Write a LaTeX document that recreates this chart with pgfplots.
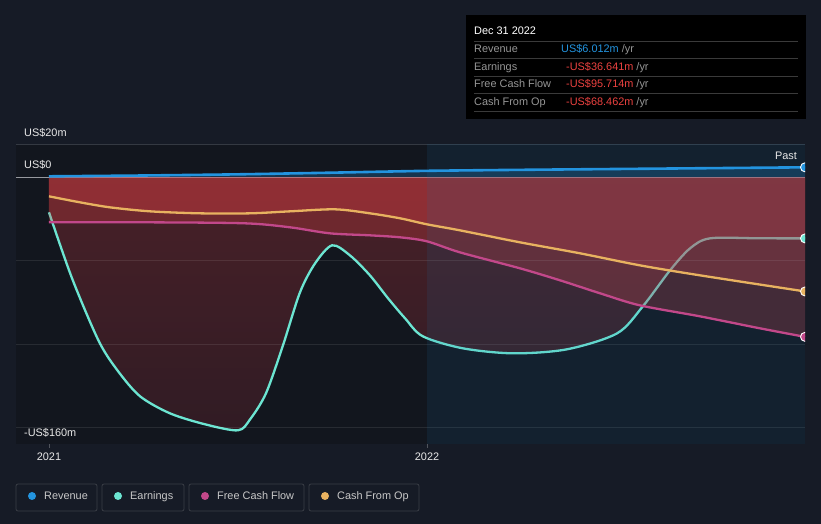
\documentclass[border=0pt]{standalone}
\usepackage{pgfplots}
\pgfplotsset{compat=1.18}
\usepackage{fontspec}
\setmainfont{Liberation Sans}
\definecolor{bg}{RGB}{22,27,38}
\definecolor{leftbg}{RGB}{18,22,30}
\definecolor{overlayblue}{RGB}{27,114,167}
\definecolor{grid20}{RGB}{52,57,66}
\definecolor{zeroline}{RGB}{150,152,158}
\definecolor{axisgray}{RGB}{80,84,92}
\definecolor{labelwhite}{RGB}{232,232,232}
\definecolor{revcol}{RGB}{35,148,223}
\definecolor{earncol}{RGB}{108,229,210}
\definecolor{fcfcol}{RGB}{194,72,138}
\definecolor{cfocol}{RGB}{232,178,96}
\definecolor{fillred}{RGB}{234,66,70}
\definecolor{fillreddark}{RGB}{140,44,56}
\definecolor{ttgrey}{RGB}{150,150,150}
\definecolor{ttred}{RGB}{236,66,64}
\definecolor{ttsep}{RGB}{58,58,58}
\definecolor{legborder}{RGB}{58,62,70}
\definecolor{legtext}{RGB}{200,200,200}
\newcommand\f{\fontsize{10.9}{13}\selectfont}
\pgfplotstableread{
x y
2021.000 -21.0
2021.061 -60.6
2021.132 -98.4
2021.183 -116.4
2021.241 -131.4
2021.320 -141.6
2021.413 -148.2
2021.500 -151.8
2021.532 -145.2
2021.574 -129.6
2021.619 -100.8
2021.664 -69.0
2021.704 -51.6
2021.749 -40.8
2021.796 -46.8
2021.849 -58.8
2021.897 -72.6
2021.942 -84.6
2021.989 -95.4
2022.095 -102.6
2022.228 -105.6
2022.370 -103.2
2022.503 -93.6
2022.571 -77.4
2022.643 -55.8
2022.696 -42.6
2022.749 -36.6
2022.881 -36.6
2023.000 -36.641
}\earnings
\pgfplotstableread{
x y
2021.000 -27.0
2021.267 -27.0
2021.519 -27.6
2021.638 -30.0
2021.743 -33.6
2021.849 -34.8
2021.929 -36.0
2022.000 -38.4
2022.087 -45.0
2022.246 -54.6
2022.352 -61.8
2022.458 -69.6
2022.563 -76.8
2022.722 -83.4
2022.881 -90.6
2023.000 -95.714
}\fcf
\pgfplotstableread{
x y
2021.000 -11.4
2021.082 -15.0
2021.161 -18.0
2021.267 -20.4
2021.399 -21.6
2021.532 -21.6
2021.638 -20.4
2021.757 -19.2
2021.849 -21.6
2021.929 -24.6
2022.000 -28.2
2022.087 -31.8
2022.246 -39.0
2022.405 -45.6
2022.563 -52.8
2022.722 -58.8
2023.000 -68.462
}\cfo
\pgfplotstableread{
x y
2021.00 0.6
2021.25 1.1
2021.50 1.8
2021.75 2.8
2022.00 3.9
2022.25 4.5
2022.50 5.0
2022.75 5.5
2023.00 6.012
}\revenue
\begin{document}
\begin{tikzpicture}
\useasboundingbox (0pt,0pt) rectangle (821pt,524pt);
\fill[bg] (0pt,0pt) rectangle (821pt,524pt);
\begin{axis}[
  at={(16pt,80pt)}, anchor=south west,
  scale only axis, width=789pt, height=300pt,
  xmin=2020.9127, xmax=2023, ymin=-160, ymax=20,
  axis y line=none, axis x line=bottom,
  x axis line style={-, draw=axisgray, line width=1pt},
  xtick={2021,2022}, xticklabels={2021,2022}, ytick=\empty,
  tick align=outside, major tick length=4pt,
  xtick style={draw=axisgray, line width=0.8pt},
  x tick label style={font=\f, text=labelwhite, yshift=-1.5pt},
  clip marker paths=true,
]
% backgrounds
\fill[leftbg] (axis cs:2020.9127,-160) rectangle (axis cs:2023,20);
\draw[grid20, line width=0.8pt] (axis cs:2020.9127,20) -- (axis cs:2023,20);
\draw[zeroline, line width=1.3pt] (axis cs:2020.9127,0) -- (axis cs:2023,0);
% revenue glow
\addplot[draw=none, fill=revcol, fill opacity=0.25, smooth, tension=0.4] table {\revenue} \closedcycle;
% earnings fill and line
\addplot[draw=none, shade, top color=fillred, bottom color=fillreddark, fill opacity=0.255, smooth, tension=0.5] table {\earnings} \closedcycle;
\addplot[earncol, line width=2.3pt, smooth, tension=0.5] table {\earnings};
% FCF fill
\addplot[draw=none, fill=fillred, fill opacity=0.255, smooth, tension=0.5] table {\fcf} \closedcycle;
% CFO fill
\addplot[draw=none, fill=fillred, fill opacity=0.255, smooth, tension=0.5] table {\cfo} \closedcycle;
% gridlines
\draw[white, opacity=0.09, line width=0.8pt] (axis cs:2020.9127,-50) -- (axis cs:2023,-50);
\draw[white, opacity=0.09, line width=0.8pt] (axis cs:2020.9127,-100) -- (axis cs:2023,-100);
\draw[white, opacity=0.09, line width=0.8pt] (axis cs:2020.9127,-150) -- (axis cs:2023,-150);
% past overlay
\fill[overlayblue, fill opacity=0.13] (axis cs:2022,-160) rectangle (axis cs:2023,20);
% lines
\addplot[fcfcol, line width=2.3pt, smooth, tension=0.5] table {\fcf};
\addplot[cfocol, line width=2.3pt, smooth, tension=0.5] table {\cfo};
\addplot[revcol, line width=2.6pt, smooth, tension=0.4] table {\revenue};
% end markers
\addplot[only marks, mark=*, mark size=4.5pt, mark options={fill=revcol, draw=white, line width=0.9pt}] coordinates {(2023,6.012)};
\addplot[only marks, mark=*, mark size=4.5pt, mark options={fill=earncol, draw=white, line width=0.9pt}] coordinates {(2023,-36.641)};
\addplot[only marks, mark=*, mark size=4.5pt, mark options={fill=fcfcol, draw=white, line width=0.9pt}] coordinates {(2023,-95.714)};
\addplot[only marks, mark=*, mark size=4.5pt, mark options={fill=cfocol, draw=white, line width=0.9pt}] coordinates {(2023,-68.462)};
\end{axis}
% axis labels
\node[anchor=base west, inner sep=0pt, text=labelwhite, font=\f] at (24pt,387.8pt) {US\$20m};
\node[anchor=base west, inner sep=0pt, text=labelwhite, font=\f] at (24pt,355.8pt) {US\$0};
\node[anchor=base west, inner sep=0pt, text=labelwhite, font=\f] at (24pt,87.8pt) {-US\$160m};
\node[anchor=base east, inner sep=0pt, text=labelwhite, font=\f] at (797pt,364.1pt) {Past};
% tooltip
\fill[black] (466pt,509pt) rectangle (806pt,405pt);
\foreach \yy in {482.7,465.7,448,430.3,412.7} {\draw[ttsep, line width=0.8pt] (474pt,\yy pt) -- (798pt,\yy pt);}
\node[anchor=base west, inner sep=0pt, text=white, font=\f] at (474pt,489.4pt) {Dec 31 2022};
\node[anchor=base west, inner sep=0pt, text=ttgrey, font=\f] at (474pt,471.1pt) {Revenue};
\node[anchor=base west, inner sep=0pt, text=ttgrey, font=\f] at (474pt,453.8pt) {Earnings};
\node[anchor=base west, inner sep=0pt, text=ttgrey, font=\f] at (474pt,436.1pt) {Free Cash Flow};
\node[anchor=base west, inner sep=0pt, text=ttgrey, font=\f] at (474pt,418.4pt) {Cash From Op};
\node[anchor=base west, inner sep=0pt, font=\f] at (561pt,471.1pt) {\textcolor{revcol}{US\$6.012m} \textcolor{ttgrey}{/yr}};
\node[anchor=base west, inner sep=0pt, font=\f] at (566pt,453.8pt) {\textcolor{ttred}{-US\$36.641m} \textcolor{ttgrey}{/yr}};
\node[anchor=base west, inner sep=0pt, font=\f] at (566pt,436.1pt) {\textcolor{ttred}{-US\$95.714m} \textcolor{ttgrey}{/yr}};
\node[anchor=base west, inner sep=0pt, font=\f] at (566pt,418.4pt) {\textcolor{ttred}{-US\$68.462m} \textcolor{ttgrey}{/yr}};
% legend
\draw[legborder, line width=0.8pt, rounded corners=2pt] (16pt,40pt) rectangle (97pt,13pt);
\draw[legborder, line width=0.8pt, rounded corners=2pt] (102pt,40pt) rectangle (184pt,13pt);
\draw[legborder, line width=0.8pt, rounded corners=2pt] (189pt,40pt) rectangle (304pt,13pt);
\draw[legborder, line width=0.8pt, rounded corners=2pt] (309pt,40pt) rectangle (419pt,13pt);
\fill[revcol] (32pt,28pt) circle (4pt);
\fill[earncol] (118pt,28pt) circle (4pt);
\fill[fcfcol] (205pt,28pt) circle (4pt);
\fill[cfocol] (325pt,28pt) circle (4pt);
\node[anchor=base west, inner sep=0pt, text=legtext, font=\f] at (44pt,24.1pt) {Revenue};
\node[anchor=base west, inner sep=0pt, text=legtext, font=\f] at (130pt,24.1pt) {Earnings};
\node[anchor=base west, inner sep=0pt, text=legtext, font=\f] at (217pt,24.1pt) {Free Cash Flow};
\node[anchor=base west, inner sep=0pt, text=legtext, font=\f] at (337pt,24.1pt) {Cash From Op};
\end{tikzpicture}
\end{document}
